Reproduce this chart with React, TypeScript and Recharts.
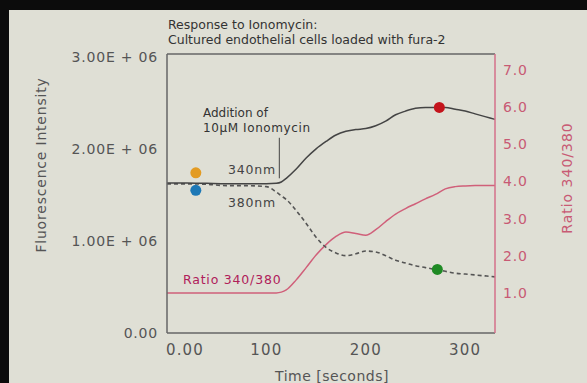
import {
  ComposedChart,
  Line,
  Scatter,
  XAxis,
  YAxis,
  ReferenceLine,
} from "recharts";

// time in seconds
const times = [
  0, 20, 40, 60, 80, 100, 110, 115, 120, 130, 140, 150, 160, 170, 180, 190,
  200, 210, 220, 230, 240, 250, 260, 270, 280, 290, 300, 310, 320, 330,
];
// fluorescence at 340nm (x1e6)
const fl340 = [
  1.63, 1.63, 1.625, 1.62, 1.62, 1.62, 1.625, 1.64, 1.68, 1.78, 1.9, 2.0, 2.08,
  2.15, 2.19, 2.21, 2.22, 2.25, 2.3, 2.37, 2.41, 2.44, 2.45, 2.45, 2.45, 2.43,
  2.41, 2.38, 2.35, 2.32,
];
// fluorescence at 380nm (x1e6)
const fl380 = [
  1.62, 1.62, 1.615, 1.6, 1.6, 1.59, 1.53, 1.49, 1.45, 1.33, 1.19, 1.04, 0.93,
  0.87, 0.84, 0.86, 0.89, 0.88, 0.84, 0.79, 0.76, 0.73, 0.71, 0.69, 0.67, 0.65,
  0.64, 0.63, 0.62, 0.61,
];
// ratio 340/380
const ratio = [
  1.0, 1.0, 1.0, 1.0, 1.0, 1.0, 1.0, 1.02, 1.08, 1.35, 1.68, 2.02, 2.3, 2.52,
  2.64, 2.6, 2.55, 2.7, 2.92, 3.12, 3.27, 3.4, 3.53, 3.65, 3.8, 3.86, 3.88,
  3.89, 3.89, 3.89,
];

const orangeDot = [{ t: 29, v: 1.74e6 }];
const blueDot = [{ t: 29, v: 1.55e6 }];
const redDot = [{ t: 274, v: 2.45e6 }];
const greenDot = [{ t: 272, v: 0.69e6 }];

const xTicks = [0, 100, 200, 300];
const leftTicks = [0, 1e6, 2e6, 3e6];
const rightTicks = [1, 2, 3, 4, 5, 6, 7];

const data = times.map((t, i) => ({
  t,
  f340: fl340[i] * 1e6,
  f380: fl380[i] * 1e6,
  ratio: ratio[i],
}));

const FONT = "'DejaVu Sans', sans-serif";
const GRAY = "#555";
const PINK = "#c85a74";

function fmtLeft(v: number) {
  if (v === 0) return "0.00";
  return (v / 1e6).toFixed(2) + "E + 06";
}

function XTick(props: any) {
  const v = props.payload.value;
  return (
    <text
      x={props.x + (v === 0 ? 18 : 0)}
      y={props.y}
      dy="0.71em"
      textAnchor="middle"
      fill={GRAY}
      fontSize={15}
      letterSpacing={1.2}
      fontFamily={FONT}
    >
      {v === 0 ? "0.00" : v}
    </text>
  );
}

const dot = (color: string) => (p: any) =>
  <circle cx={p.cx} cy={p.cy} r={5.5} fill={color} />;

export default function App() {
  return (
    <div
      style={{
        position: "absolute",
        left: 0,
        top: 0,
        width: 587,
        height: 383,
        background: "#0c0c0c",
        overflow: "hidden",
      }}
    >
      <div
        style={{
          position: "absolute",
          left: 9,
          top: 10,
          width: 578,
          height: 373,
          background: "#dfdfd5",
        }}
      />
      <div style={{ position: "absolute", left: 0, top: 0 }}>
        <ComposedChart
          width={587}
          height={383}
          data={data}
          margin={{ top: 54, right: 42, bottom: 20, left: 67 }}
        >
          <XAxis
            dataKey="t"
            type="number"
            domain={[0, 330]}
            ticks={xTicks}
            tick={<XTick />}
            tickLine={false}
            tickSize={0}
            tickMargin={11}
            height={30}
            axisLine={{ stroke: "#666", strokeWidth: 1.5 }}
          />
          <YAxis
            yAxisId="left"
            type="number"
            domain={[0, 3.03e6]}
            ticks={leftTicks}
            tickFormatter={fmtLeft}
            width={100}
            tickLine={false}
            tickSize={0}
            tickMargin={9}
            axisLine={{ stroke: "#666", strokeWidth: 1.5 }}
            tick={{ fill: GRAY, fontSize: 14, fontFamily: FONT, letterSpacing: 0.8 }}
          />
          <YAxis
            yAxisId="right"
            orientation="right"
            type="number"
            domain={[-0.08, 7.43]}
            ticks={rightTicks}
            tickFormatter={(v: number) => v.toFixed(1)}
            width={50}
            tickLine={false}
            tickSize={0}
            tickMargin={8}
            axisLine={{ stroke: "#d4708a", strokeWidth: 1.5 }}
            tick={{ fill: PINK, fontSize: 14, fontFamily: FONT, letterSpacing: 0.8 }}
          />
          <ReferenceLine
            yAxisId="left"
            y={3.03e6}
            stroke="#666"
            strokeWidth={1.5}
          />
          <ReferenceLine
            yAxisId="left"
            segment={[
              { x: 113, y: 2.12e6 },
              { x: 113, y: 1.68e6 },
            ]}
            stroke="#444"
            strokeWidth={1}
          />
          <Line
            yAxisId="right"
            dataKey="ratio"
            type="monotone"
            stroke="#d0607a"
            strokeWidth={1.5}
            dot={false}
            isAnimationActive={false}
          />
          <Line
            yAxisId="left"
            dataKey="f380"
            type="monotone"
            stroke="#555"
            strokeWidth={1.6}
            strokeDasharray="4 3"
            dot={false}
            isAnimationActive={false}
          />
          <Line
            yAxisId="left"
            dataKey="f340"
            type="monotone"
            stroke="#444"
            strokeWidth={1.5}
            dot={false}
            isAnimationActive={false}
          />
          <Scatter yAxisId="left" data={orangeDot} dataKey="v" fill="#e39b22" shape={dot("#e39b22")} isAnimationActive={false} />
          <Scatter yAxisId="left" data={blueDot} dataKey="v" fill="#1d78b6" shape={dot("#1d78b6")} isAnimationActive={false} />
          <Scatter yAxisId="left" data={redDot} dataKey="v" fill="#c4141c" shape={dot("#c4141c")} isAnimationActive={false} />
          <Scatter yAxisId="left" data={greenDot} dataKey="v" fill="#1f8a24" shape={dot("#1f8a24")} isAnimationActive={false} />
        </ComposedChart>
      </div>
      <svg
        width={587}
        height={383}
        style={{ position: "absolute", left: 0, top: 0, pointerEvents: "none" }}
        fontFamily={FONT}
      >
        <text x={168} y={29} fontSize={12.5} fill="#333">
          Response to Ionomycin:
        </text>
        <text x={168} y={44} fontSize={12.5} fill="#333">
          Cultured endothelial cells loaded with fura-2
        </text>
        <text x={203} y={117} fontSize={12} fill="#333">
          Addition of
        </text>
        <text x={203} y={132} fontSize={12} fill="#333" letterSpacing={0.6}>
          10µM Ionomycin
        </text>
        <text x={228} y={174} fontSize={12.5} fill="#444" letterSpacing={0.8}>
          340nm
        </text>
        <text x={228} y={207} fontSize={12.5} fill="#444" letterSpacing={0.8}>
          380nm
        </text>
        <text x={183} y={284} fontSize={12.5} fill="#b0205a" letterSpacing={0.8}>
          Ratio 340/380
        </text>
        <text
          x={332}
          y={381}
          fontSize={14}
          fill={GRAY}
          textAnchor="middle"
          letterSpacing={0.5}
        >
          Time [seconds]
        </text>
        <text
          transform="translate(46,165) rotate(-90)"
          fontSize={14}
          fill={GRAY}
          textAnchor="middle"
          letterSpacing={0.8}
        >
          Fluorescence Intensity
        </text>
        <text
          transform="translate(572,178) rotate(-90)"
          fontSize={14}
          fill={PINK}
          textAnchor="middle"
          letterSpacing={1}
        >
          Ratio 340/380
        </text>
      </svg>
    </div>
  );
}
